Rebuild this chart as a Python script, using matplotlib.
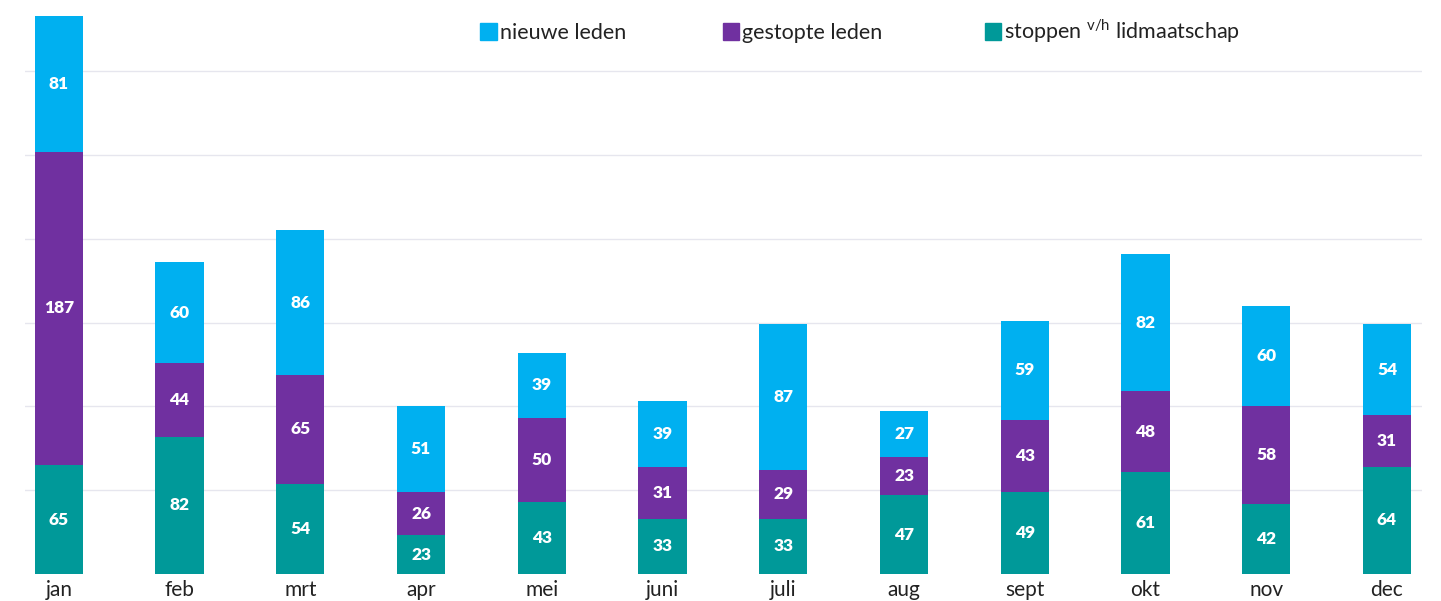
import numpy as np
import matplotlib.pyplot as plt
from matplotlib.patches import Patch

plt.rcParams['font.family'] = ['Lato', 'DejaVu Sans']

# Data
maanden = ['jan', 'feb', 'mrt', 'apr', 'mei', 'juni', 'juli', 'aug', 'sept', 'okt', 'nov', 'dec']
stoppen = [65, 82, 54, 23, 43, 33, 33, 47, 49, 61, 42, 64]
gestopt = [187, 44, 65, 26, 50, 31, 29, 23, 43, 48, 58, 31]
nieuw = [81, 60, 86, 51, 39, 39, 87, 27, 59, 82, 60, 54]

c_stop = '#009999'
c_gest = '#7030A0'
c_nieuw = '#00B0F0'

fig = plt.figure(figsize=(14.41, 6.01), dpi=100)
ax = fig.add_axes([25 / 1441, 27 / 601, 1397 / 1441, 558 / 601])

x = np.arange(len(maanden))
w = 0.4
stoppen = np.array(stoppen)
gestopt = np.array(gestopt)
nieuw = np.array(nieuw)

b1 = ax.bar(x, stoppen, w, color=c_stop, zorder=3)
b2 = ax.bar(x, gestopt, w, bottom=stoppen, color=c_gest, zorder=3)
b3 = ax.bar(x, nieuw, w, bottom=stoppen + gestopt, color=c_nieuw, zorder=3)

for bars in (b1, b2, b3):
    ax.bar_label(bars, label_type='center', color='white', fontsize=12.5,
                 fontweight='heavy', zorder=4)

ax.set_xlim(-0.28, 11.29)
ax.set_ylim(0, 333)
ax.set_yticks(np.arange(50, 301, 50))
ax.yaxis.grid(True, color='#E6E6EE', linewidth=1, zorder=0)
ax.tick_params(axis='y', left=False, labelleft=False)
ax.tick_params(axis='x', length=0, labelsize=15, pad=4.5, colors='#222222')
ax.set_xticks(x)
ax.set_xticklabels(maanden)
for s in ax.spines.values():
    s.set_visible(False)

handles = [Patch(color=c_nieuw), Patch(color=c_gest), Patch(color=c_stop)]
labels = ['nieuwe leden', 'gestopte leden ', r'stoppen $^{\mathregular{v/h}}$ lidmaatschap']
leg = ax.legend(handles, labels, ncol=3, loc='center left', bbox_to_anchor=(0.326, 0.973),
                frameon=False, fontsize=15.5, handlelength=0.75, handleheight=0.9,
                handletextpad=0.15, columnspacing=4.5, borderpad=0, borderaxespad=0,
                labelcolor='#222222')

fig.savefig('out.png', dpi=100)
